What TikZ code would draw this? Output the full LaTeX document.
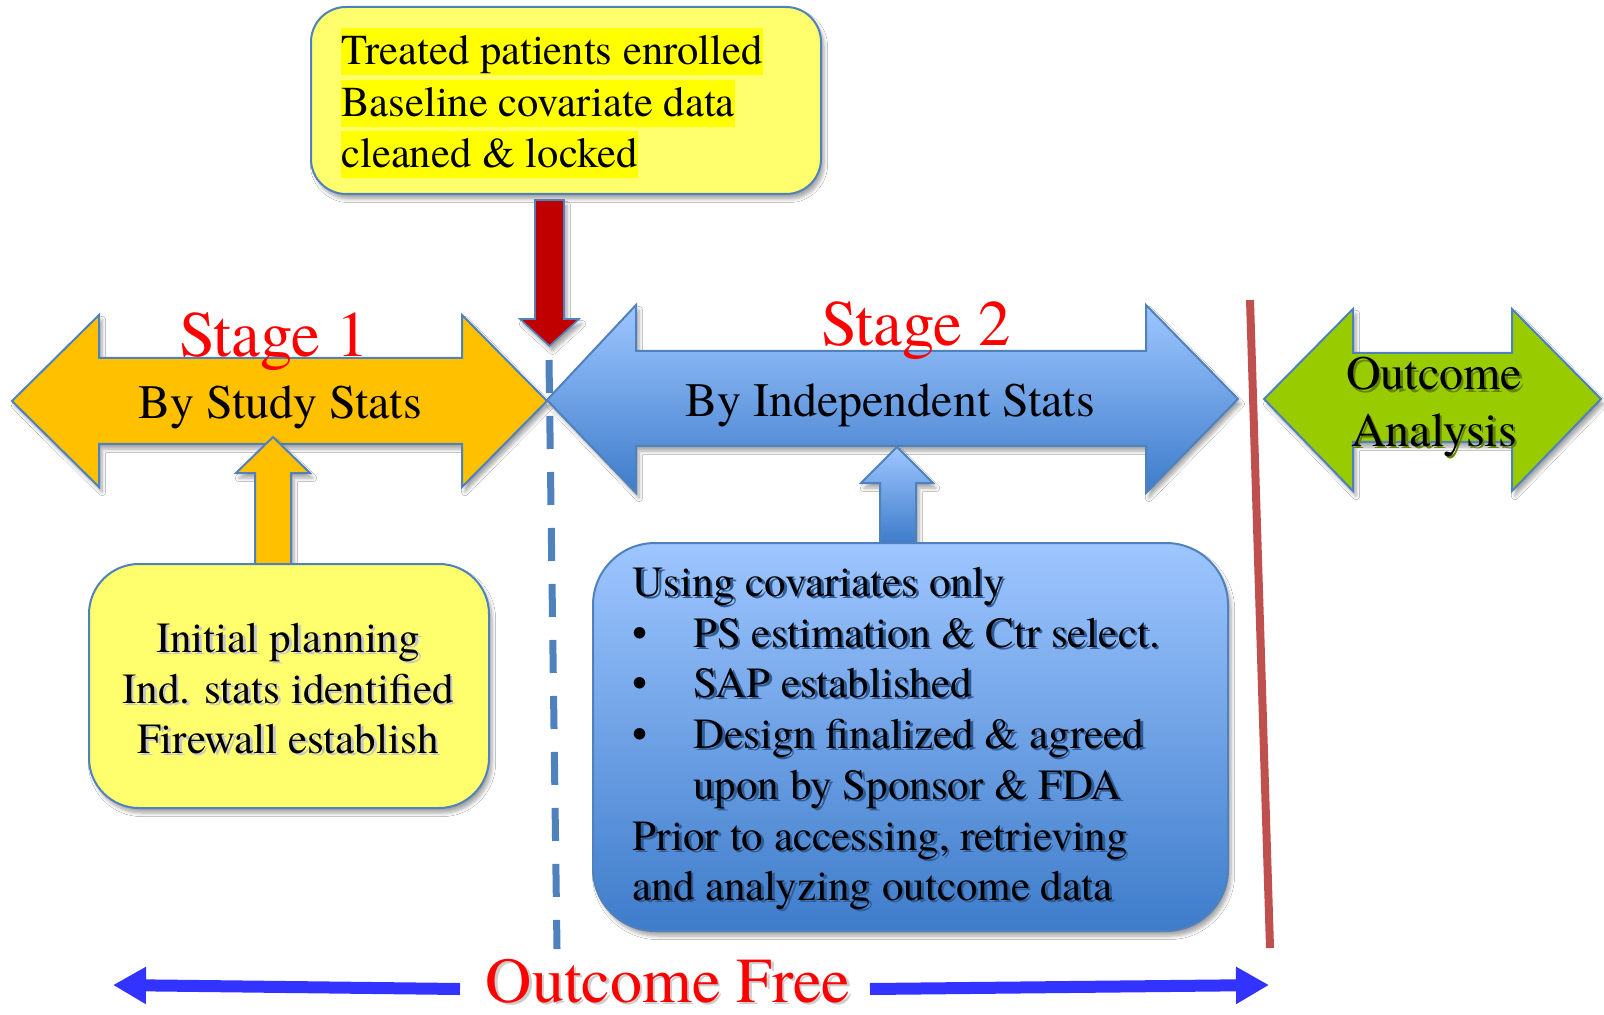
\documentclass[tikz,border=0pt]{standalone}
\usepackage{fontspec}
\IfFontExistsTF{texgyretermes-regular.otf}
  {\setmainfont{texgyretermes-regular.otf}[BoldFont=texgyretermes-bold.otf]}
  {}
\usetikzlibrary{shadows.blur,arrows.meta}

\definecolor{orng}{HTML}{FFC000}
\definecolor{edgeblue}{HTML}{4F81BD}
\definecolor{paleyel}{RGB}{255,255,110}
\definecolor{hiyel}{HTML}{FFFF00}
\definecolor{darkred}{HTML}{C00000}
\definecolor{blueTop}{RGB}{158,198,255}
\definecolor{blueBot}{RGB}{62,124,202}
\definecolor{lime}{HTML}{99CC00}
\definecolor{wallred}{HTML}{C0504D}
\definecolor{freeblue}{HTML}{3333FF}
\definecolor{stagered}{HTML}{FF0000}

% text with a faint offset copy underneath it
\newcommand{\castshadow}[2]{%
  \makebox[0pt][l]{\raisebox{-1.3pt}{\hspace{1.3pt}\textcolor{#1}{#2}}}#2}

\tikzset{
  outlined/.style={draw=edgeblue, line width=1pt, line join=miter},
  softshadow/.style={blur shadow={shadow xshift=1.5pt, shadow yshift=-2.5pt,
      shadow opacity=35, shadow blur steps=6}},
  bluegrad/.style={top color=blueTop, bottom color=blueBot},
  stagelbl/.style={anchor=base, inner sep=0, text=stagered,
      font=\fontsize{32.4pt}{37pt}\selectfont},
  arrowlbl/.style={anchor=base, inner sep=0, font=\fontsize{24pt}{28pt}\selectfont},
  boxline/.style={anchor=base west, inner sep=0, font=\fontsize{21.5pt}{25pt}\selectfont},
  hiline/.style={anchor=base west, inner xsep=0, inner ysep=0, fill=hiyel,
      text height=18.5pt, text depth=5pt, font=\fontsize{21.3pt}{25pt}\selectfont},
  midline/.style={anchor=base, inner sep=0, font=\fontsize{21.5pt}{25pt}\selectfont},
  bluearrowline/.style={freeblue, line width=6pt,
      -{Triangle[length=16.5pt, width=17.5pt]}},
}

\colorlet{shYel}{black!22}
\colorlet{shBlue}{blueBot!75!black}
\colorlet{shGreen}{lime!65!black}

\begin{document}
\begin{tikzpicture}[x=0.5pt, y=-0.5pt]
\useasboundingbox[fill=white] (0,0) rectangle (1604,1015);

% ---------- Stage 1: double arrow ----------
\draw[outlined, fill=orng, softshadow]
  (12,401) -- (99,315) -- (99,358) -- (462,358) -- (462,315) -- (547,401)
  -- (462,487) -- (462,444) -- (99,444) -- (99,487) -- cycle;

% ---------- Stage 2: double arrow ----------
\draw[outlined, bluegrad, softshadow]
  (547,400) -- (636,305) -- (636,351) -- (1146,351) -- (1146,305) -- (1238,399)
  -- (1146,493) -- (1146,446) -- (636,446) -- (636,493) -- cycle;

% ---------- Outcome analysis: double arrow ----------
\draw[outlined, fill=lime, softshadow]
  (1264,399) -- (1353,309) -- (1353,353) -- (1512,353) -- (1512,309) -- (1601,399)
  -- (1512,491) -- (1512,442) -- (1353,442) -- (1353,491) -- cycle;

% ---------- top box: data lock ----------
\node[outlined, fill=paleyel, rounded corners=17.5pt, softshadow,
      minimum width=255pt, minimum height=93.5pt] (lockbox) at (566,100.5) {};
\node[hiline] (lock1) at (341,65) {Treated patients enrolled};
\node[hiline] (lock2) at (341,117) {Baseline covariate data\hspace{0.3em}};
\node[hiline] (lock3) at (341,168) {cleaned \& locked};

% red arrow from the lock box down to the stage boundary
\draw[outlined, line width=0.8pt, fill=darkred, softshadow]
  (535,200) -- (564,200) -- (564,319) -- (579,319) -- (549.5,346)
  -- (520,319) -- (535,319) -- cycle;

% ---------- stage-1 planning box and its arrow ----------
\draw[outlined, fill=orng, softshadow]
  (255,564) -- (255,473) -- (236,473) -- (273,437) -- (310,473) -- (291,473)
  -- (291,564) -- cycle;
\node[outlined, fill=paleyel, rounded corners=25pt, softshadow,
      minimum width=200pt, minimum height=122pt] (planbox) at (289,686) {};
\node[midline] (plan1) at (288,652) {\castshadow{shYel}{Initial planning}};
\node[midline] (plan2) at (288,703) {\castshadow{shYel}{Ind. stats identified}};
\node[midline] (plan3) at (288,753) {\castshadow{shYel}{Firewall establish}};

% ---------- stage-2 design box and its arrow ----------
\draw[outlined, bluegrad, softshadow]
  (880,543) -- (880,483) -- (861,483) -- (897,447) -- (933,483) -- (916,483)
  -- (916,543) -- cycle;
\node[outlined, bluegrad, rounded corners=31pt, softshadow,
      minimum width=317.5pt, minimum height=194pt] (designbox) at (910.5,737) {};
\node[boxline] (des1) at (632,596) {\castshadow{shBlue}{Using covariates only}};
\node[boxline] (des2) at (632,647) {\makebox[30.5pt][l]{•}\castshadow{shBlue}{PS estimation \& Ctr select.}};
\node[boxline] (des3) at (632,697) {\makebox[30.5pt][l]{•}\castshadow{shBlue}{SAP established}};
\node[boxline] (des4) at (632,748) {\makebox[30.5pt][l]{•}\castshadow{shBlue}{Design finalized \& agreed}};
\node[boxline] (des5) at (632,799) {\hspace*{30.5pt}\castshadow{shBlue}{upon by Sponsor \& FDA}};
\node[boxline] (des6) at (632,850) {\castshadow{shBlue}{Prior to accessing, retrieving}};
\node[boxline] (des7) at (632,900) {\castshadow{shBlue}{and analyzing outcome data}};

% ---------- boundaries ----------
\coordinate (cutTop) at (549,360);
\coordinate (cutBot) at (557,949);
\draw[edgeblue, line width=3.5pt, dash pattern=on 16.5pt off 11.5pt] (cutTop) -- (cutBot);
\coordinate (wallTop) at (1250,300);
\coordinate (wallBot) at (1270,948);
\draw[wallred, line width=4pt] (wallTop) -- (wallBot);

% ---------- arrow labels ----------
\node[stagelbl] (stage1) at (274,357) {Stage 1};
\node[arrowlbl] (bystudy) at (280,419) {By Study Stats};
\node[stagelbl] (stage2) at (916,346) {Stage 2};
\node[arrowlbl] (byind) at (890,417) {By Independent Stats};
\node[arrowlbl] (outc1) at (1434,390) {\castshadow{shGreen}{Outcome}};
\node[arrowlbl] (outc2) at (1434,446) {\castshadow{shGreen}{Analysis}};

% ---------- outcome-free span ----------
\node[anchor=base, inner sep=0, text=stagered, font=\fontsize{32pt}{36pt}\selectfont]
  (ofree) at (668,1002) {\castshadow{black!20}{Outcome Free}};
\coordinate (ofLtail) at (460,989);
\coordinate (ofLtip) at (113,985);
\coordinate (ofRtail) at (870,989);
\coordinate (ofRtip) at (1269,985);
\draw[bluearrowline] (ofLtail) -- (ofLtip);
\draw[bluearrowline] (ofRtail) -- (ofRtip);
\end{tikzpicture}
\end{document}
